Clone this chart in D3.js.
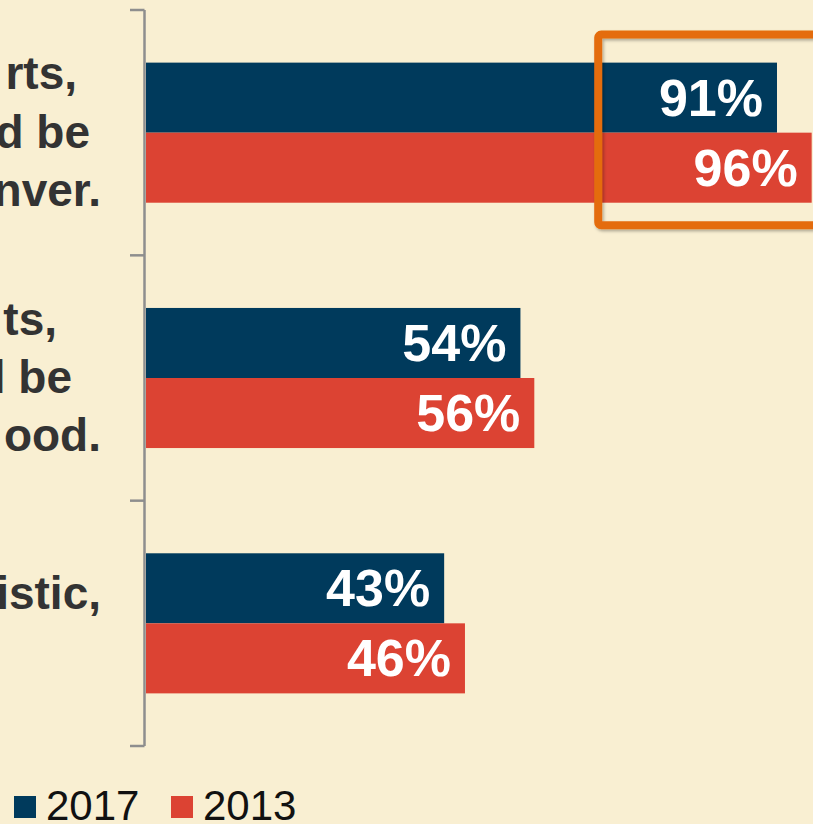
<!DOCTYPE html>
<html>
<head>
<meta charset="utf-8">
<script src="https://cdn.jsdelivr.net/npm/d3@7"></script>
<style>
  html, body { margin: 0; padding: 0; background: #F9EFD2; }
  svg { display: block; font-family: "Liberation Sans", Arial, sans-serif; }
</style>
</head>
<body>
<div id="chartDiv"></div>
<script>
// data
const categories = ['c1', 'c2', 'c3'];
const series = ['2017', '2013'];
const values2017 = [91, 54, 43];
const values2013 = [96, 56, 46];
// visible (cropped) category label lines
const labelLines = [
  ['rts,', 'd be', 'nver.'],
  ['ts,', 'l be', 'ood.'],
  ['istic,', '']
];
const highlightFrom = 65; // highlight box starts around this value, group 1

const colors = { '2017': '#003A5C', '2013': '#DC4333' };

const width = 813, height = 824;
const svg = d3.select('#chartDiv').append('svg')
  .attr('width', width).attr('height', height);

svg.append('rect').attr('width', width).attr('height', height).attr('fill', '#F9EFD2');

const defs = svg.append('defs');
const f = defs.append('filter').attr('id', 'shadow').attr('x', '-10%').attr('y', '-10%').attr('width', '130%').attr('height', '130%');
f.append('feDropShadow').attr('dx', 1.5).attr('dy', 2).attr('stdDeviation', 1.5)
  .attr('flood-color', '#000').attr('flood-opacity', 0.3);

const x = d3.scaleLinear().domain([0, 100]).range([146, 839.4]);
const y = d3.scaleBand().domain(categories).range([10, 746])
  .paddingInner(0.429).paddingOuter(0.2145);
const ySub = d3.scaleBand().domain(series).range([0, y.bandwidth()]);

const rows = categories.map((c, i) => ({
  cat: c,
  vals: [{ s: '2017', v: values2017[i] }, { s: '2013', v: values2013[i] }],
  lines: labelLines[i]
}));

// bars
const g = svg.selectAll('g.grp').data(rows).enter().append('g')
  .attr('class', 'grp')
  .attr('transform', d => `translate(0,${y(d.cat)})`);

g.selectAll('rect').data(d => d.vals).enter().append('rect')
  .attr('x', x(0))
  .attr('y', d => ySub(d.s))
  .attr('width', d => x(d.v) - x(0))
  .attr('height', ySub.bandwidth())
  .attr('fill', d => colors[d.s]);

g.selectAll('text.val').data(d => d.vals).enter().append('text')
  .attr('class', 'val')
  .attr('x', d => x(d.v) - 14)
  .attr('y', d => ySub(d.s) + ySub.bandwidth() / 2 + 18)
  .attr('text-anchor', 'end')
  .attr('fill', '#fff')
  .attr('font-weight', 'bold')
  .attr('font-size', '52px')
  .text(d => d.v + '%');

// category labels (cut off at left edge)
const lineEnds = [[77, 90, 101], [57, 72, 101], [101, 101]];
const lh = 58.5;
g.each(function(d, i) {
  const n = d.lines.length;
  const cy = y.bandwidth() / 2 + 15;
  d3.select(this).selectAll('text.lab').data(d.lines).enter().append('text')
    .attr('class', 'lab')
    .attr('x', (t, j) => lineEnds[i][j])
    .attr('y', (t, j) => cy + (j - (n - 1) / 2) * lh)
    .attr('text-anchor', 'end')
    .attr('fill', '#333')
    .attr('font-weight', 'bold')
    .attr('font-size', '46px')
    .text(t => t);
});

// axis line with ticks between groups
const step = y.step();
const tickYs = categories.map(c => y(c) - step * y.paddingInner() / 2)
  .concat([y(categories[categories.length - 1]) + y.bandwidth() + step * y.paddingInner() / 2]);
const axisG = svg.append('g').attr('stroke', '#8E8E8E').attr('stroke-width', 2.5).attr('fill', 'none');
axisG.append('line').attr('x1', 144.5).attr('x2', 144.5)
  .attr('y1', tickYs[0]).attr('y2', tickYs[tickYs.length - 1]);
axisG.selectAll('line.tick').data(tickYs).enter().append('line')
  .attr('class', 'tick')
  .attr('x1', 130).attr('x2', 144.5)
  .attr('y1', d => d).attr('y2', d => d);

// highlight box around first group
const top0 = y(categories[0]);
svg.append('rect')
  .attr('x', x(highlightFrom) + 1.5)
  .attr('y', top0 - 28)
  .attr('width', 300)
  .attr('height', y.bandwidth() + 50.5)
  .attr('rx', 3)
  .attr('fill', 'none')
  .attr('stroke', '#E46C0A')
  .attr('stroke-width', 8)
  .attr('filter', 'url(#shadow)');

// legend
const legend = svg.append('g').attr('transform', 'translate(14,796)');
const li = legend.selectAll('g').data(series).enter().append('g')
  .attr('transform', (d, i) => `translate(${i * 157},0)`);
li.append('rect').attr('width', 22).attr('height', 22).attr('fill', d => colors[d]);
li.append('text').attr('x', 32).attr('y', 24)
  .attr('font-size', '42px').attr('fill', '#111')
  .text(d => d);
</script>
</body>
</html>
